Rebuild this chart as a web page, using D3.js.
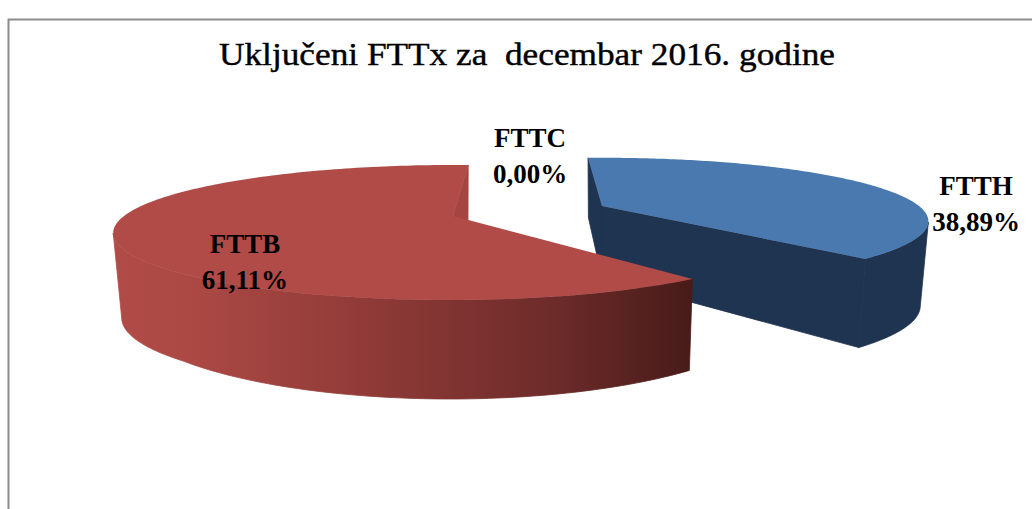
<!DOCTYPE html>
<html><head><meta charset="utf-8">
<script src="https://cdn.jsdelivr.net/npm/d3@7"></script>
<style>html,body{margin:0;padding:0;background:#fff}svg{display:block}text{font-family:"Liberation Serif",serif;fill:#000}</style>
</head><body><svg id="c" width="1032" height="509"></svg>
<script>
const titleText = "Uključeni FTTx za  decembar 2016. godine";
const categories = ["FTTH", "FTTC", "FTTB"];
const values = [38.89, 0.00, 61.11];

const W = 1032, H = 509;
const topColors = ["#4a79b0", "#000000", "#b04b47"];
const sideColors = ["#1f3450", "#000000", "url(#redSide)"];
const innerColors = ["#1f3450", "#000000", "#a44541"];
const apexes = [[602, 206], [0, 0], [453, 216]];
const radiusRight = [317, 0, 323];
const radiusLeft = [317, 0, 329];
const radiusY = [60, 0, 63.5];
const twist = [0, 0, 6.5];               // deg: apparent rotation caused by the explosion
const shrinkRight = [0.975, 0, 0.987];
const shrinkLeft = [0.975, 0, 0.975];
const labelPos = [[976, 195, 231], [530, 147, 183], [245, 253, 289]];
const labelWeight = ["bold", "bold", "bold"];

const persp = 0.244, skew = 2;
const depth = d3.scaleLinear().domain([-51, 0, 16, 56, 84]).range([59, 72, 85, 89, 99]);
const toRad = Math.PI / 180;

const svg = d3.select("#c");
const defs = svg.append("defs");
const grad = defs.append("linearGradient").attr("id", "redSide")
  .attr("gradientUnits", "userSpaceOnUse").attr("x1", 113).attr("x2", 693).attr("y1", 0).attr("y2", 0);
[[0, "#b04b47"], [0.12, "#ad4945"], [0.45, "#8f3a37"], [0.75, "#6e2c2a"], [1, "#471b19"]]
  .forEach(s => grad.append("stop").attr("offset", s[0]).attr("stop-color", s[1]));

// frame
svg.append("path").attr("d", d3.line()([[8.5, H], [8.5, 19.5], [W, 19.5]]))
  .attr("fill", "none").attr("stroke", "#8c8c8c").attr("stroke-width", 2);

// title
svg.append("text").attr("x", 527).attr("y", 65).attr("text-anchor", "middle")
  .attr("xml:space", "preserve").style("white-space", "pre")
  .attr("font-size", 31).attr("textLength", 616).attr("lengthAdjust", "spacingAndGlyphs")
  .attr("stroke", "#000").attr("stroke-width", 0.4)
  .text(titleText);

// pie angles
const pie = d3.pie().sort(null).value(d => d).startAngle(-3.5 * toRad).endAngle(356.5 * toRad);
const arcs = pie(values);
const line = d3.line();

function topPoint(i, ang, r) {
  const X = r * Math.sin(ang), Y = r * Math.cos(ang), w = 1 / (1 + persp * Y);
  const a = X < 0 ? radiusLeft[i] : radiusRight[i];
  return [apexes[i][0] + (a * X + skew * Y) * w, apexes[i][1] - radiusY[i] * Y * w];
}
function bottomPoint(i, ang, r) {
  const [x, y] = topPoint(i, ang, r);
  const off = y - apexes[i][1];
  const s = x < apexes[i][0] ? shrinkLeft[i] : shrinkRight[i];
  return [apexes[i][0] + (x - apexes[i][0]) * s, y + depth(off)];
}

arcs.forEach((a, i) => {
  if (a.value <= 0) return;
  const t = twist[i] * toRad;
  const a0 = a.startAngle + t, a1 = a.endAngle + t;
  const angles = d3.range(0, 181).map(k => a0 + (a1 - a0) * k / 180);
  const rim = angles.map(g => topPoint(i, g, 1));
  const g = svg.append("g").attr("class", "slice");
  const face = (fill, d) => g.append("path").attr("fill", fill).attr("stroke", fill)
    .attr("stroke-width", 0.8).attr("stroke-linejoin", "round").attr("d", d);

  // radial face at the far edge
  face(innerColors[i], line([
    topPoint(i, i === 0 ? a0 : a1, 1), topPoint(i, 0, 0), bottomPoint(i, 0, 0), bottomPoint(i, i === 0 ? a0 : a1, 1)
  ]) + "Z");

  // radial face towards the viewer
  if (i === 0) face(sideColors[i], line([
    topPoint(i, a1, 1), topPoint(i, 0, 0), bottomPoint(i, 0, 0), bottomPoint(i, a1, 1)
  ]) + "Z");

  // visible rim wall
  const vis = angles.filter(g => Math.cos(g) <= -0.24);
  face(sideColors[i], line(
    vis.map(g => topPoint(i, g, 1)).concat(vis.slice().reverse().map(g => bottomPoint(i, g, 1)))
  ) + "Z");

  // top face
  g.append("path").attr("fill", topColors[i]).attr("d", line([topPoint(i, 0, 0)].concat(rim)) + "Z");
});

// labels
categories.forEach((c, i) => {
  const fmt = values[i].toFixed(2).replace(".", ",") + "%";
  svg.append("text").attr("x", labelPos[i][0]).attr("y", labelPos[i][1]).attr("text-anchor", "middle")
    .attr("font-size", 27).attr("font-weight", labelWeight[i]).text(c);
  svg.append("text").attr("x", labelPos[i][0]).attr("y", labelPos[i][2]).attr("text-anchor", "middle")
    .attr("font-size", 27).attr("font-weight", labelWeight[i]).text(fmt);
});
</script></body></html>
